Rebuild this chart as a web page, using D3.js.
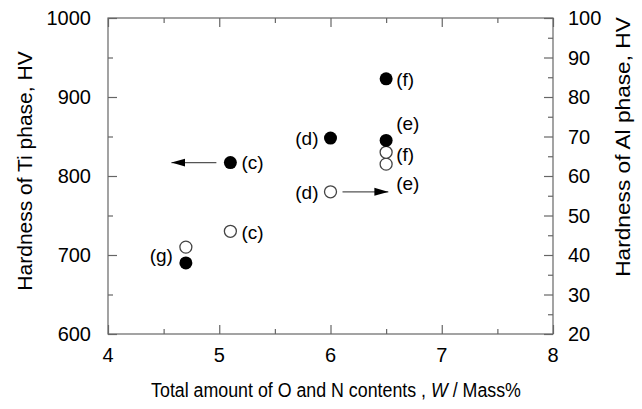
<!DOCTYPE html>
<html>
<head>
<meta charset="utf-8">
<script src="https://cdn.jsdelivr.net/npm/d3@7"></script>
<style>
  html, body { margin: 0; padding: 0; background: #fff; }
  svg { display: block; font-family: "Liberation Sans", Arial, Helvetica, sans-serif; }
</style>
</head>
<body>
<svg id="chart" width="642" height="409"></svg>
<script>
// ---- data ----
const tiX      = [4.7, 5.1, 6.0, 6.5, 6.5];
const tiHV     = [690, 817, 848, 845, 923];
const tiLabels = ["", "(c)", "(d)", "(e)", "(f)"];

const alX      = [4.7, 5.1, 6.0, 6.5, 6.5];
const alHV     = [42, 46, 56, 63, 66];
const alLabels = ["(g)", "(c)", "(d)", "(e)", "(f)"];

const xTicks      = [4, 5, 6, 7, 8];
const leftTicks   = [600, 700, 800, 900, 1000];
const rightTicks  = [20, 30, 40, 50, 60, 70, 80, 90, 100];

// ---- layout ----
const svg = d3.select("#chart");
const L = 108, R = 553, T = 18, B = 334;
const x  = d3.scaleLinear().domain([4, 8]).range([L, R]);
const yL = d3.scaleLinear().domain([600, 1000]).range([B, T]);
const yR = d3.scaleLinear().domain([20, 100]).range([B, T]);
const axisColor = "#666";

// frame
svg.append("rect").attr("x", L).attr("y", T).attr("width", R - L).attr("height", B - T)
  .attr("fill", "none").attr("stroke", axisColor).attr("stroke-width", 1.2);

// bottom
svg.append("g").attr("transform", `translate(0,${B})`)
  .call(d3.axisBottom(x).tickValues(d3.range(4, 8.01, 0.5)).tickSize(0))
  .call(g => g.select(".domain").remove())
  .call(g => g.selectAll(".tick line")
    .attr("y2", d => Number.isInteger(d) ? -9 : -5)
    .attr("stroke", axisColor).attr("stroke-width", 1.2))
  .call(g => g.selectAll("text").remove());
// top
svg.append("g").attr("transform", `translate(0,${T})`)
  .call(d3.axisTop(x).tickValues(d3.range(4, 8.01, 0.5)).tickSize(0))
  .call(g => g.select(".domain").remove())
  .call(g => g.selectAll(".tick line")
    .attr("y2", d => Number.isInteger(d) ? 9 : 5)
    .attr("stroke", axisColor).attr("stroke-width", 1.2))
  .call(g => g.selectAll("text").remove());
// left
svg.append("g").attr("transform", `translate(${L},0)`)
  .call(d3.axisLeft(yL).tickValues(d3.range(600, 1000.1, 50)).tickSize(0))
  .call(g => g.select(".domain").remove())
  .call(g => g.selectAll(".tick line")
    .attr("x2", d => d % 100 === 0 ? 9 : 5)
    .attr("stroke", axisColor).attr("stroke-width", 1.2))
  .call(g => g.selectAll("text").remove());
// right
svg.append("g").attr("transform", `translate(${R},0)`)
  .call(d3.axisRight(yR).tickValues(d3.range(20, 100.1, 5)).tickSize(0))
  .call(g => g.select(".domain").remove())
  .call(g => g.selectAll(".tick line")
    .attr("x2", d => d % 10 === 0 ? -9 : -5)
    .attr("stroke", axisColor).attr("stroke-width", 1.2))
  .call(g => g.selectAll("text").remove());

// tick labels
const tickFont = 20;
svg.append("g").selectAll("text").data(xTicks).join("text")
  .attr("x", d => x(d)).attr("y", 362).attr("text-anchor", "middle")
  .attr("font-size", tickFont).text(d => d);
svg.append("g").selectAll("text").data(leftTicks).join("text")
  .attr("x", 91).attr("y", d => yL(d)).attr("dy", "0.36em").attr("text-anchor", "end")
  .attr("font-size", tickFont).text(d => d);
svg.append("g").selectAll("text").data(rightTicks).join("text")
  .attr("x", 568).attr("y", d => yR(d)).attr("dy", "0.36em").attr("text-anchor", "start")
  .attr("font-size", tickFont).text(d => d);

// axis titles
svg.append("text").attr("transform", `translate(32,171) rotate(-90)`)
  .attr("text-anchor", "middle").attr("font-size", 21)
  .text("Hardness of Ti phase, HV");
svg.append("text").attr("transform", `translate(630,147) rotate(-90) scale(1.08,1)`)
  .attr("text-anchor", "middle").attr("font-size", 21)
  .text("Hardness of Al phase, HV");
const xt = svg.append("text").attr("transform", "translate(336,397) scale(0.89,1)")
  .attr("x", 0).attr("y", 0).attr("text-anchor", "middle").attr("font-size", 20);
xt.append("tspan").text("Total amount of O and N contents , ");
xt.append("tspan").attr("font-style", "italic").text("W");
xt.append("tspan").text(" / Mass%");

// arrows
svg.append("defs").append("marker").attr("id", "ah")
  .attr("viewBox", "0 0 14 10").attr("refX", 14).attr("refY", 5)
  .attr("markerWidth", 14).attr("markerHeight", 10).attr("markerUnits", "userSpaceOnUse")
  .attr("orient", "auto")
  .append("path").attr("d", "M0,1 L14,5 L0,9 Z").attr("fill", "#000");
// left arrow from Ti (c) point, right arrow from Al (d) point
svg.append("line").attr("x1", x(tiX[1]) - 14).attr("y1", yL(tiHV[1]))
  .attr("x2", x(4.57)).attr("y2", yL(tiHV[1]))
  .attr("stroke", "#555").attr("stroke-width", 1.3).attr("marker-end", "url(#ah)");
svg.append("line").attr("x1", x(alX[2]) + 12).attr("y1", yR(alHV[2]))
  .attr("x2", x(6.52)).attr("y2", yR(alHV[2]))
  .attr("stroke", "#555").attr("stroke-width", 1.3).attr("marker-end", "url(#ah)");

// points
const ti = tiX.map((v, i) => ({x: v, y: tiHV[i], l: tiLabels[i]}));
const al = alX.map((v, i) => ({x: v, y: alHV[i], l: alLabels[i]}));
svg.append("g").selectAll("circle").data(al).join("circle")
  .attr("cx", d => x(d.x)).attr("cy", d => yR(d.y)).attr("r", 6)
  .attr("fill", "#fff").attr("stroke", "#444").attr("stroke-width", 1.3);
svg.append("g").selectAll("circle").data(ti).join("circle")
  .attr("cx", d => x(d.x)).attr("cy", d => yL(d.y)).attr("r", 6.5)
  .attr("fill", "#000");

// point labels: [dx, dy, anchor]
const labelFont = 19;
const tiOff = [null, [11, 0, "start"], [-12, 0, "end"], [10, -17, "start"], [10, 0, "start"]];
const alOff = [[-13, 8, "end"], [11, 1, "start"], [-12, 0, "end"], [10, 19, "start"], [10, 2, "start"]];
svg.append("g").selectAll("text").data(ti.filter(d => d.l)).join("text")
  .attr("x", d => x(d.x) + tiOff[ti.indexOf(d)][0])
  .attr("y", d => yL(d.y) + tiOff[ti.indexOf(d)][1])
  .attr("dy", "0.36em").attr("text-anchor", d => tiOff[ti.indexOf(d)][2])
  .attr("font-size", labelFont).text(d => d.l);
svg.append("g").selectAll("text").data(al).join("text")
  .attr("x", (d, i) => x(d.x) + alOff[i][0])
  .attr("y", (d, i) => yR(d.y) + alOff[i][1])
  .attr("dy", "0.36em").attr("text-anchor", (d, i) => alOff[i][2])
  .attr("font-size", labelFont).text(d => d.l);
</script>
</body>
</html>
